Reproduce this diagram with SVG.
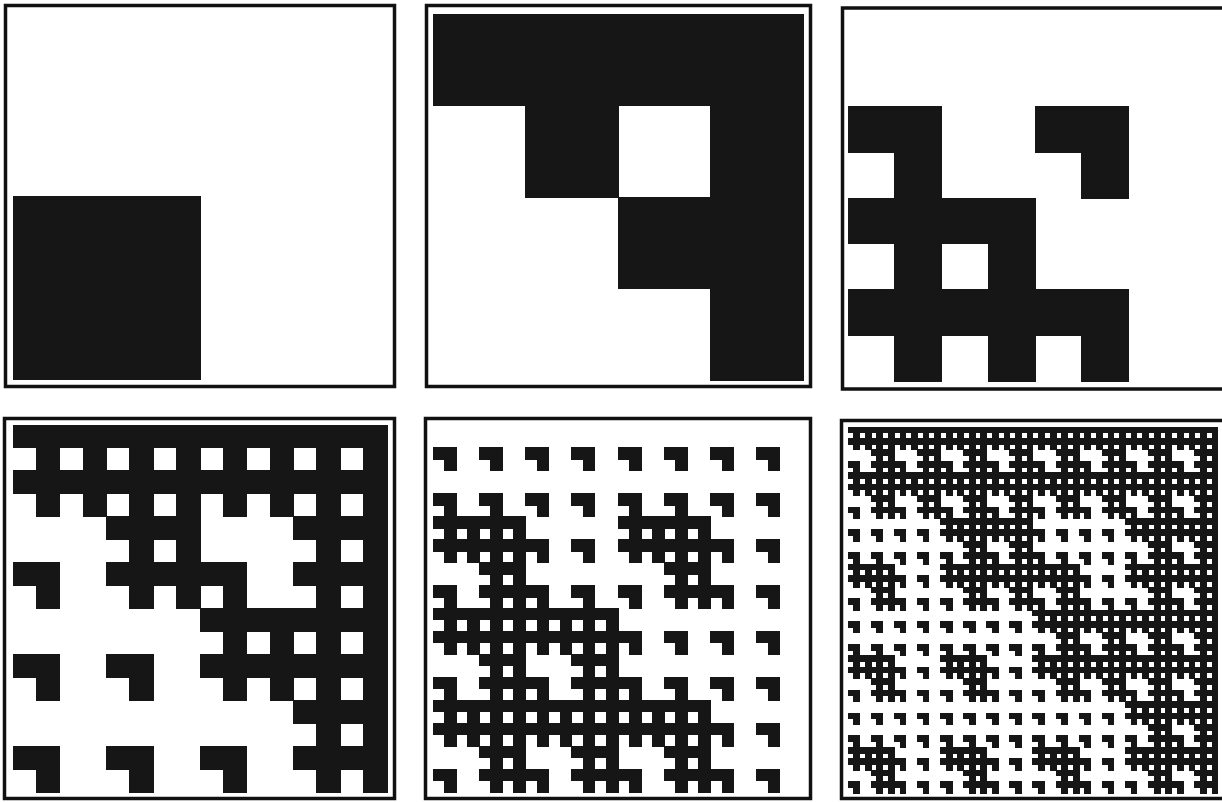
<svg xmlns="http://www.w3.org/2000/svg" xmlns:xlink="http://www.w3.org/1999/xlink" width="1222" height="802" viewBox="0 0 1222 802">
<style>
.frame{fill:none;stroke:#111;stroke-width:3.5}
.fill{fill:#161616;shape-rendering:crispEdges}
#Y0{fill:#161616;stroke:#161616;stroke-width:1;vector-effect:non-scaling-stroke;shape-rendering:crispEdges}
</style>
<defs>
<rect id="Y0" width="1" height="1"/>
<g id="X1"><use href="#Y0"/><use href="#Y0" x="1"/><use href="#Y0" x="1" y="1"/></g>
<g id="X2"><use href="#X1" y="2"/></g>
<g id="Y2"><use href="#X1"/><use href="#X1" x="2"/><use href="#X1" y="2"/><use href="#X1" x="2" y="2"/></g>
<g id="X3"><use href="#Y2"/><use href="#Y2" x="4"/><use href="#Y2" x="4" y="4"/><use href="#X2" y="4"/></g>
<g id="Y3"><use href="#X2"/><use href="#X2" x="4"/><use href="#X2" y="4"/><use href="#X2" x="4" y="4"/></g>
<g id="X4"><use href="#Y3"/><use href="#Y3" x="8"/><use href="#Y3" x="8" y="8"/><use href="#X3" y="8"/></g>
<g id="Y4"><use href="#X3"/><use href="#X3" x="8"/><use href="#X3" y="8"/><use href="#X3" x="8" y="8"/></g>
<g id="X5"><use href="#Y4"/><use href="#Y4" x="16"/><use href="#Y4" x="16" y="16"/><use href="#X4" y="16"/></g>
<g id="Y5"><use href="#X4"/><use href="#X4" x="16"/><use href="#X4" y="16"/><use href="#X4" x="16" y="16"/></g>
</defs>
<rect width="1222" height="802" fill="#fff"/>
<g id="panel1">
<rect class="frame" x="5.5" y="5.5" width="389" height="381"/>
<g class="fill" transform="translate(13,14) scale(187,182.5)"><use href="#Y0" y="1"/></g>
</g>
<g id="panel2">
<rect class="frame" x="426.5" y="5.5" width="384" height="381"/>
<g class="fill" transform="translate(433,14) scale(92.5,91.5)"><use href="#X1"/><use href="#X1" x="2"/><use href="#X1" x="2" y="2"/></g>
</g>
<g id="panel3">
<rect class="frame" x="842.5" y="8" width="385" height="381"/>
<g class="fill" transform="translate(848,15) scale(46.75,45.75)"><use href="#X2"/><use href="#X2" x="4"/><use href="#X2" x="4" y="4"/><use href="#Y2" y="4"/></g>
</g>
<g id="panel4">
<rect class="frame" x="4.5" y="418.5" width="390" height="380"/>
<g class="fill" transform="translate(13,425) scale(23.375,22.94)"><use href="#X3"/><use href="#X3" x="8"/><use href="#X3" x="8" y="8"/><use href="#Y3" y="8"/></g>
</g>
<g id="panel5">
<rect class="frame" x="425.5" y="418.5" width="385" height="380"/>
<g class="fill" transform="translate(433,425) scale(11.5625,11.47)"><use href="#X4"/><use href="#X4" x="16"/><use href="#X4" x="16" y="16"/><use href="#Y4" y="16"/></g>
</g>
<g id="panel6">
<rect class="frame" x="841.5" y="420.5" width="385" height="378"/>
<g class="fill" transform="translate(848,427) scale(5.78,5.72)"><use href="#X5"/><use href="#X5" x="32"/><use href="#X5" x="32" y="32"/><use href="#Y5" y="32"/></g>
</g>
<g id="connectors"/>
</svg>
